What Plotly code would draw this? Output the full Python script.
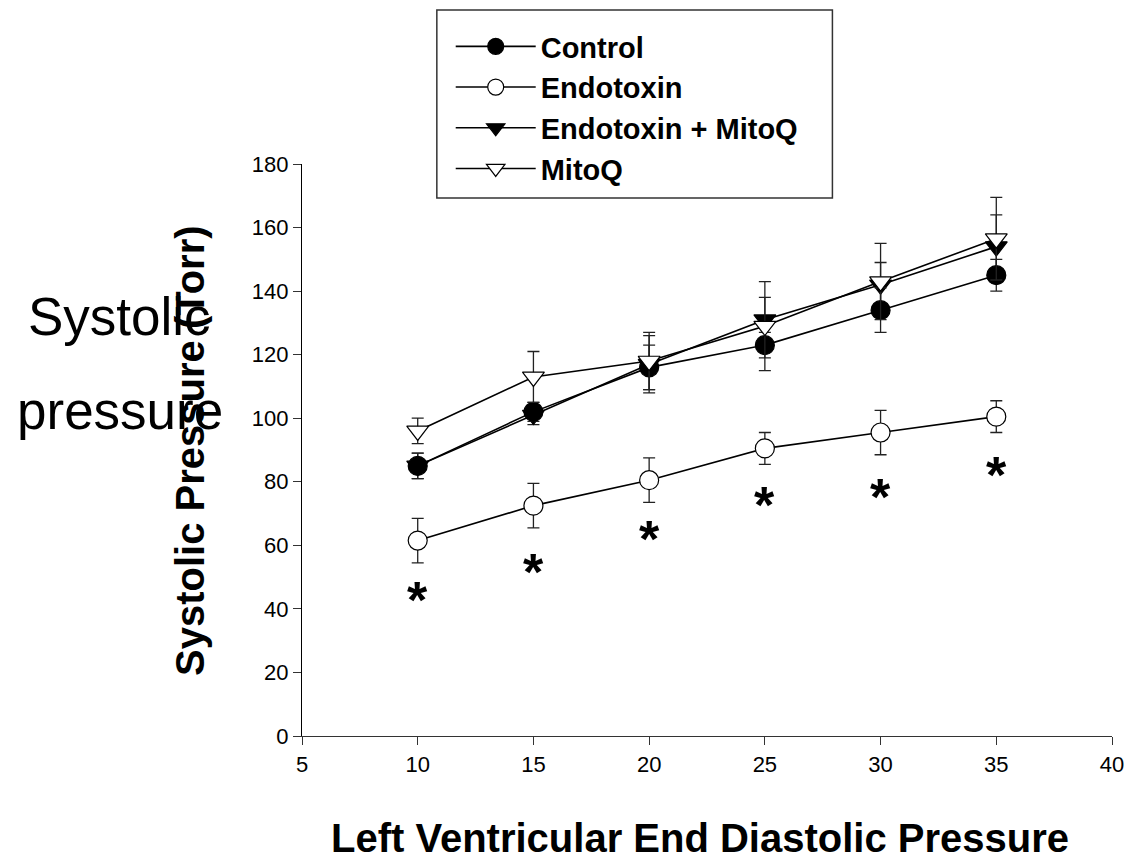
import plotly.graph_objects as go

# ---- data ----
lvedp = [10, 15, 20, 25, 30, 35]

control = [85, 102, 116, 123, 134, 145]
control_err = [4, 3, 7, 4, 7, 5]

endotoxin = [61.5, 72.5, 80.5, 90.5, 95.5, 100.5]
endotoxin_err = [7, 7, 7, 5, 7, 5]

endo_mitoq = [85, 101, 117, 131, 142, 154]
endo_mitoq_err = [4, 3, 9, 7, 7, 10]

mitoq = [96, 113, 118, 129, 143, 156.5]
mitoq_err = [4, 8, 9, 14, 12, 13]

star_x = [10, 15, 20, 25, 30, 35]
star_y = [46.6, 55.4, 65.8, 76.5, 79, 85.9]

x_ticks = [5, 10, 15, 20, 25, 30, 35, 40]
y_ticks = [0, 20, 40, 60, 80, 100, 120, 140, 160, 180]

FONT = "Liberation Sans, Arial, sans-serif"

# page geometry (pixels)
W, H = 1136, 861
ML, MR, MT, MB = 302, 17, 164, 125
PW, PH = W - ML - MR, H - MT - MB


def px_x(p):
    return (p - ML) / PW


def px_y(p):
    return (H - MB - p) / PH


fig = go.Figure()


def add_series(name, y, err, symbol, fill, rank):
    fig.add_trace(go.Scatter(
        x=lvedp, y=y, name=name, mode="lines+markers",
        line=dict(color="black", width=1.6),
        marker=dict(symbol=symbol, size=19, color=fill,
                    line=dict(color="black", width=1.2)),
        error_y=dict(type="data", array=err, visible=True,
                     color="#222222", thickness=1.3, width=6),
        legendrank=rank,
    ))


# drawing order (bottom to top)
add_series("Endotoxin + MitoQ", endo_mitoq, endo_mitoq_err, "triangle-down", "black", 3)
add_series("Control", control, control_err, "circle", "black", 1)
add_series("MitoQ", mitoq, mitoq_err, "triangle-down", "white", 4)
add_series("Endotoxin", endotoxin, endotoxin_err, "circle", "white", 2)

annotations = []
for sx, sy in zip(star_x, star_y):
    annotations.append(dict(x=sx, y=sy, xref="x", yref="y", text="<b>*</b>",
                            showarrow=False, yshift=-12,
                            font=dict(family=FONT, size=52, color="black")))

# axis titles
annotations.append(dict(x=px_x(189), y=0.5, xref="paper", yref="paper",
                        text="Systolic Pressure (Torr)", textangle=-90,
                        showarrow=False, xanchor="center", yanchor="middle",
                        font=dict(family=FONT, size=40, color="black", weight="bold")))
annotations.append(dict(x=px_x(703), y=px_y(814), xref="paper", yref="paper",
                        text="Left Ventricular End Diastolic Pressure",
                        showarrow=False, xanchor="center", yanchor="top",
                        font=dict(family=FONT, size=40, color="black", weight="bold")))
# stray overlaid label
annotations.append(dict(x=px_x(118), y=px_y(316), xref="paper", yref="paper",
                        text="Systolic", showarrow=False,
                        xanchor="center", yanchor="middle",
                        font=dict(family=FONT, size=53, color="black")))
annotations.append(dict(x=px_x(118), y=px_y(410), xref="paper", yref="paper",
                        text="pressure", showarrow=False,
                        xanchor="center", yanchor="middle",
                        font=dict(family=FONT, size=53, color="black")))

# legend frame
shapes = [dict(type="rect", xref="paper", yref="paper",
               x0=px_x(438), x1=px_x(837), y0=px_y(198), y1=px_y(10),
               line=dict(color="#333333", width=1.5), fillcolor="rgba(0,0,0,0)",
               layer="above")]

fig.update_layout(
    width=W, height=H,
    margin=dict(l=ML, r=MR, t=MT, b=MB),
    paper_bgcolor="white", plot_bgcolor="white",
    font=dict(family=FONT, color="black"),
    showlegend=True,
    legend=dict(x=px_x(452), y=px_y(21), xanchor="left", yanchor="top",
                borderwidth=0, bgcolor="rgba(0,0,0,0)",
                font=dict(family=FONT, size=29, color="black", weight="bold"),
                itemwidth=80, tracegroupgap=0),
    annotations=annotations,
    shapes=shapes,
    xaxis=dict(range=[5, 40], tickvals=x_ticks, showgrid=False, zeroline=False,
               showline=True, linecolor="#333333", linewidth=1.2,
               ticks="outside", ticklen=8, tickcolor="#333333",
               tickfont=dict(family=FONT, size=22, color="black")),
    yaxis=dict(range=[0, 180], tickvals=y_ticks, showgrid=False, zeroline=False,
               showline=True, linecolor="black", linewidth=1.2,
               ticks="outside", ticklen=8, tickcolor="#333333",
               tickfont=dict(family=FONT, size=22, color="black")),
)

fig.write_html("out.html")
